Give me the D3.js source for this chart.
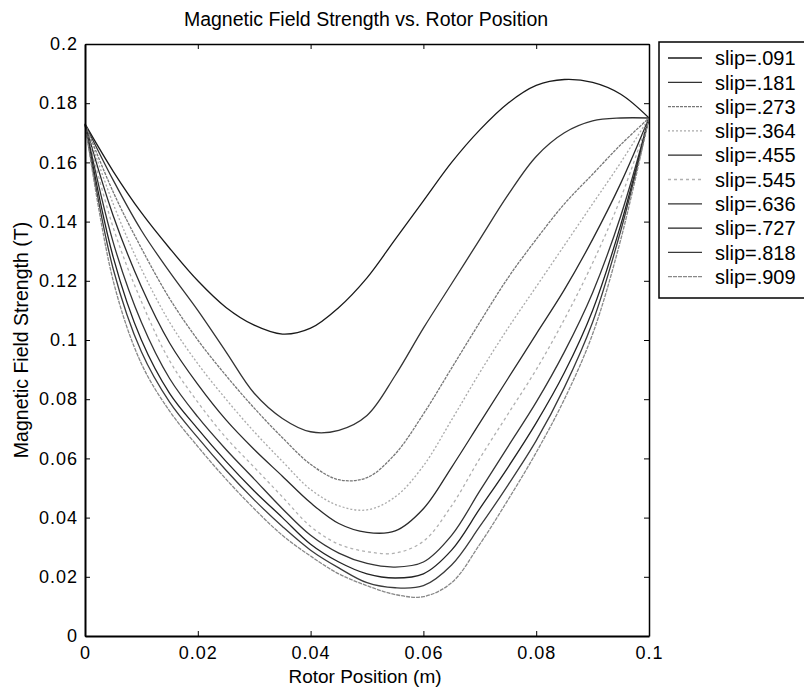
<!DOCTYPE html>
<html lang="en">
<head>
    <meta charset="UTF-8">
    <title>Magnetic Field Strength vs. Rotor Position</title>
    <style>
        body { margin: 0; background: #fff; }
        text { font-family: "Liberation Sans", Arial, sans-serif; fill: #000; }
        .tick text { font-size: 18px; letter-spacing: 1px; }
        .axis path, .axis line { stroke: #000; }
        .curve { fill: none; }
    </style>
</head>
<body>
<svg width="804" height="691"></svg>
<script src="https://d3js.org/d3.v7.min.js"></script>
<script>
    // rotor position samples (m)
    const positions = [0, 0.005, 0.01, 0.015, 0.02, 0.025, 0.03, 0.035, 0.04, 0.045, 0.05,
        0.055, 0.06, 0.065, 0.07, 0.075, 0.08, 0.085, 0.09, 0.095, 0.1];

    const slips = [".091", ".181", ".273", ".364", ".455", ".545", ".636", ".727", ".818", ".909"];

    // field strength (T) for each slip
    const s091 = [0.173, 0.157, 0.143, 0.131, 0.120, 0.111, 0.105, 0.102, 0.104, 0.111, 0.121, 0.134, 0.147, 0.160, 0.171, 0.180, 0.186, 0.188, 0.187, 0.183, 0.175];
    const s181 = [0.173, 0.154, 0.137, 0.123, 0.110, 0.096, 0.082, 0.0735, 0.069, 0.0695, 0.0745, 0.088, 0.104, 0.119, 0.134, 0.149, 0.162, 0.170, 0.174, 0.175, 0.175];
    const s273 = [0.173, 0.150, 0.131, 0.114, 0.100, 0.088, 0.077, 0.067, 0.058, 0.0528, 0.0535, 0.0615, 0.075, 0.0905, 0.106, 0.121, 0.134, 0.146, 0.156, 0.166, 0.175];
    const s364 = [0.173, 0.146, 0.124, 0.106, 0.092, 0.080, 0.069, 0.059, 0.0495, 0.044, 0.0426, 0.047, 0.0575, 0.073, 0.089, 0.104, 0.118, 0.132, 0.146, 0.160, 0.175];
    const s455 = [0.173, 0.142, 0.118, 0.099, 0.085, 0.073, 0.063, 0.054, 0.045, 0.038, 0.035, 0.0355, 0.043, 0.057, 0.072, 0.087, 0.102, 0.117, 0.134, 0.153, 0.175];
    const s545 = [0.173, 0.138, 0.113, 0.093, 0.079, 0.067, 0.057, 0.047, 0.037, 0.031, 0.0285, 0.028, 0.032, 0.044, 0.060, 0.075, 0.090, 0.107, 0.126, 0.148, 0.175];
    const s636 = [0.173, 0.133, 0.106, 0.087, 0.074, 0.063, 0.053, 0.043, 0.034, 0.028, 0.0245, 0.0233, 0.025, 0.034, 0.049, 0.064, 0.079, 0.096, 0.116, 0.142, 0.175];
    const s727 = [0.173, 0.128, 0.100, 0.082, 0.070, 0.059, 0.049, 0.040, 0.031, 0.025, 0.021, 0.0196, 0.021, 0.029, 0.043, 0.057, 0.072, 0.089, 0.110, 0.139, 0.175];
    const s818 = [0.173, 0.124, 0.096, 0.079, 0.067, 0.056, 0.046, 0.037, 0.029, 0.023, 0.018, 0.0163, 0.017, 0.024, 0.037, 0.051, 0.066, 0.084, 0.106, 0.137, 0.175];
    const s909 = [0.173, 0.120, 0.092, 0.076, 0.064, 0.053, 0.043, 0.034, 0.027, 0.021, 0.017, 0.014, 0.0133, 0.018, 0.031, 0.046, 0.062, 0.080, 0.102, 0.134, 0.175];

    const series = [s091, s181, s273, s364, s455, s545, s636, s727, s818, s909];

    const xTicks = [0, 0.02, 0.04, 0.06, 0.08, 0.1];
    const yTicks = [0, 0.02, 0.04, 0.06, 0.08, 0.1, 0.12, 0.14, 0.16, 0.18, 0.2];

    // grey shades as the printed copy shows them
    const strokes = ["#1a1a1a", "#333", "#777", "#aaa", "#2a2a2a", "#b0b0b0", "#333", "#222", "#3a3a3a", "#888"];
    const dashes = [null, null, "3,1", "2,2", null, "3,3", null, null, null, "4,1"];

    const svg = d3.select("svg");
    const plotL = 85, plotR = 649, plotT = 44, plotB = 636;

    const x = d3.scaleLinear().domain([0, 0.1]).range([plotL, plotR]);
    const y = d3.scaleLinear().domain([0, 0.2]).range([plotB, plotT]);
    const fmt = d => String(+d.toFixed(2));

    svg.append("text")
        .attr("x", 366)
        .attr("y", 26)
        .attr("text-anchor", "middle")
        .style("font-size", "19.5px")
        .text("Magnetic Field Strength vs. Rotor Position");

    // curves
    const line = d3.line()
        .x((d, i) => x(positions[i]))
        .y(d => y(d))
        .curve(d3.curveCatmullRom.alpha(0.5));

    svg.append("g").selectAll("path")
        .data(series)
        .enter().append("path")
        .attr("class", "curve")
        .attr("d", line)
        .attr("stroke", (d, i) => strokes[i])
        .attr("stroke-width", 1.3)
        .attr("stroke-dasharray", (d, i) => dashes[i]);

    // axes, MATLAB-style box with inward ticks
    svg.append("g").attr("class", "axis")
        .attr("transform", "translate(0," + plotB + ")")
        .call(d3.axisBottom(x).tickValues(xTicks).tickFormat(fmt).tickSizeInner(-5).tickSizeOuter(0).tickPadding(10))
        .call(g => g.select(".domain").attr("stroke-width", 2));
    svg.append("g").attr("class", "axis")
        .attr("transform", "translate(0," + plotT + ")")
        .call(d3.axisTop(x).tickValues(xTicks).tickFormat("").tickSizeInner(-5).tickSizeOuter(0))
        .call(g => g.select(".domain").attr("stroke-width", 1.5));
    svg.append("g").attr("class", "axis")
        .attr("transform", "translate(" + plotL + ",0)")
        .call(d3.axisLeft(y).tickValues(yTicks).tickFormat(fmt).tickSizeInner(-5).tickSizeOuter(0).tickPadding(7))
        .call(g => g.select(".domain").attr("stroke-width", 2));
    svg.append("g").attr("class", "axis")
        .attr("transform", "translate(" + plotR + ",0)")
        .call(d3.axisRight(y).tickValues(yTicks).tickFormat("").tickSizeInner(-5).tickSizeOuter(0))
        .call(g => g.select(".domain").attr("stroke-width", 1.5));

    svg.append("text")
        .attr("x", 365)
        .attr("y", 683)
        .attr("text-anchor", "middle")
        .style("font-size", "19px")
        .text("Rotor Position (m)");

    svg.append("text")
        .attr("transform", "translate(28,340) rotate(-90)")
        .attr("text-anchor", "middle")
        .style("font-size", "19.5px")
        .text("Magnetic Field Strength (T)");

    // legend
    const lg = svg.append("g");
    lg.append("rect")
        .attr("x", 659).attr("y", 42)
        .attr("width", 160).attr("height", 256)
        .attr("fill", "#fff").attr("stroke", "#000").attr("stroke-width", 1.5);

    const row = lg.selectAll(".row")
        .data(slips)
        .enter().append("g")
        .attr("transform", (d, i) => "translate(0," + (58 + i * 24.3) + ")");
    row.append("line")
        .attr("x1", 668).attr("x2", 702)
        .attr("stroke", (d, i) => strokes[i])
        .attr("stroke-width", 1.3)
        .attr("stroke-dasharray", (d, i) => dashes[i]);
    row.append("text")
        .attr("x", 715).attr("dy", "0.36em")
        .style("font-size", "20px")
        .text(d => "slip=" + d);
</script>
</body>
</html>
